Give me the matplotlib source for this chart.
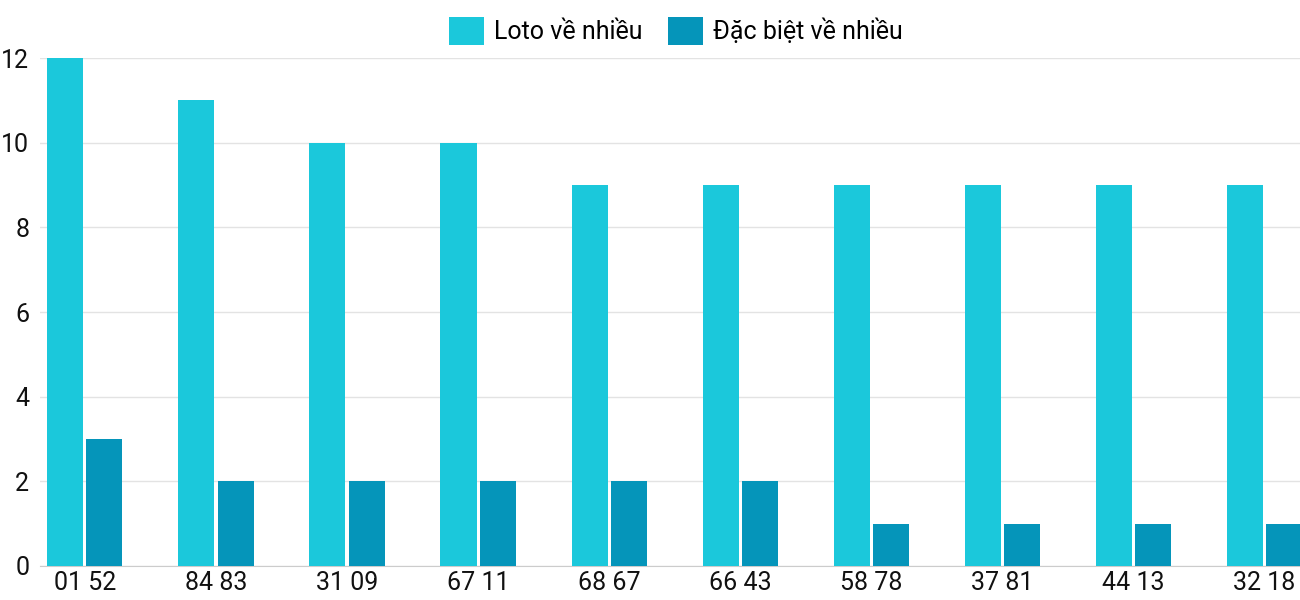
import matplotlib
matplotlib.use("Agg")
import matplotlib.pyplot as plt
import numpy as np

categories = ["01 52", "84 83", "31 09", "67 11", "68 67", "66 43", "58 78", "37 81", "44 13", "32 18"]
loto = [12, 11, 10, 10, 9, 9, 9, 9, 9, 9]
dacbiet = [3, 2, 2, 2, 2, 2, 1, 1, 1, 1]

plt.rcParams['font.family'] = ['Roboto', 'DejaVu Sans']
fig = plt.figure(figsize=(13, 6), dpi=100)
ax = fig.add_axes([0.031, 0.057, 0.969, 0.846])
x = np.arange(len(categories))
w = 0.275
ax.bar(x - w/2 - 0.012, loto, w, color="#1BC8DB", label="Loto về nhiều", zorder=3)
ax.bar(x + w/2 + 0.012, dacbiet, w, color="#0595BA", label="Đặc biệt về nhiều", zorder=3)
ax.set_xlim(-0.34, 9.27)
ax.set_ylim(0, 12)
ax.set_yticks(range(0, 13, 2))
ax.set_xticks(x)
ax.set_xticklabels(categories)
ax.tick_params(axis='both', length=0, labelsize=18, colors="#111111")
ax.tick_params(axis='y', pad=8)
ax.grid(axis='y', color="#e3e3e3", linewidth=1, zorder=0)
for s in ["top", "right", "left"]:
    ax.spines[s].set_visible(False)
ax.spines["bottom"].set_color("#cccccc")
fig.legend(loc="upper center", bbox_to_anchor=(0.52, 1.01), ncol=2, frameon=False,
           fontsize=18, handlelength=1.4, handleheight=1.4, columnspacing=1.0, handletextpad=0.4)
fig.savefig("out.png", dpi=100)
